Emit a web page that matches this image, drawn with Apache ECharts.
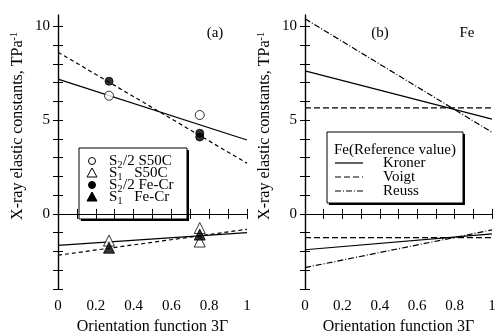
<!DOCTYPE html>
<html>
<head>
<meta charset="utf-8">
<script src="https://cdn.jsdelivr.net/npm/echarts@6/dist/echarts.min.js"></script>
<style>
  html, body { margin: 0; padding: 0; background: #fff; }
  #chart { width: 503px; height: 334px; }
</style>
</head>
<body>
<div id="chart"></div>
<script>
// ---- data ----
const xFit = [0, 1];

// panel (a): measured points [orientation function, value]
const s2S50C = [[0.27, 6.3], [0.75, 5.27]];
const s1S50C = [[0.27, -1.42], [0.75, -0.75], [0.75, -1.47]];
const s2FeCr = [[0.27, 7.07], [0.75, 4.3], [0.75, 4.1]];
const s1FeCr = [[0.27, -1.8], [0.75, -1.1]];
// panel (a): fitted lines, values at x = 0 and x = 1
const s2S50CFit = [7.18, 3.94];
const s1S50CFit = [-1.68, -1.0];
const s2FeCrFit = [8.62, 2.7];
const s1FeCrFit = [-2.2, -0.82];

// panel (b): reference values for Fe, at x = 0 and x = 1
const kronerS2 = [7.62, 5.05];
const kronerS1 = [-1.91, -1.06];
const voigtS2 = [5.65, 5.65];
const voigtS1 = [-1.26, -1.26];
const reussS2 = [10.4, 4.35];
const reussS1 = [-2.86, -0.85];

const yLabels = [0, 5, 10];
const yTicks = [-4, -3, -2, -1, 0, 1, 2, 3, 4, 5, 6, 7, 8, 9, 10];

const FONT = "Liberation Serif";
const chart = echarts.init(document.getElementById("chart"));

function fitData(ends) {
  return xFit.map((x, i) => [x, ends[i]]);
}

function xAxes(gridIndex) {
  const base = {
    gridIndex: gridIndex,
    type: "value",
    min: 0,
    max: 1,
    interval: 0.2,
    splitLine: { show: false },
    axisLine: { lineStyle: { color: "#000", width: 1.2 } },
    axisTick: { inside: true, length: 5, lineStyle: { color: "#000" } },
    minorTick: { show: true, splitNumber: 2, length: 5, lineStyle: { color: "#000" } },
  };
  return [
    Object.assign({}, base, {
      position: "bottom",
      name: "Orientation function 3Γ",
      nameLocation: "middle",
      nameGap: 28,
      nameTextStyle: { fontFamily: FONT, fontSize: 16, color: "#000" },
      axisLabel: { fontFamily: FONT, fontSize: 15, color: "#000", margin: 10 },
    }),
    Object.assign({}, base, { position: "top", axisLabel: { show: false } }),
  ];
}

function yAxes(gridIndex) {
  const base = {
    gridIndex: gridIndex,
    type: "value",
    min: -4,
    max: 10.6,
    splitLine: { show: false },
    axisLine: { lineStyle: { color: "#000", width: 1.2 } },
    axisTick: { inside: true, length: 5, customValues: yTicks, lineStyle: { color: "#000" } },
  };
  return [
    Object.assign({}, base, {
      position: "left",
      name: "{n|X-ray elastic constants, TPa}{sup|-1}",
      nameLocation: "middle",
      nameGap: 31,
      nameTextStyle: {
        fontFamily: FONT, fontSize: 16, color: "#000",
        padding: [0, 0, 0, 52],
        rich: {
          n: { fontFamily: FONT, fontSize: 16, color: "#000" },
          sup: { fontFamily: FONT, fontSize: 10, color: "#000", verticalAlign: "top", padding: [0, 0, 8, 0] },
        },
      },
      axisLabel: { fontFamily: FONT, fontSize: 15, color: "#000", margin: 8, customValues: yLabels },
    }),
    Object.assign({}, base, { position: "right", axisLabel: { show: false } }),
  ];
}

function lineSeries(xi, yi, ends, type) {
  return {
    type: "line",
    xAxisIndex: xi,
    yAxisIndex: yi,
    data: fitData(ends),
    symbol: "none",
    silent: true,
    lineStyle: { color: "#000", width: 1.2, type: type },
  };
}

function pointSeries(data, symbol, size, filled) {
  return {
    type: "scatter",
    xAxisIndex: 0,
    yAxisIndex: 0,
    data: data,
    symbol: symbol,
    symbolSize: size,
    itemStyle: { color: filled ? "#000" : "#fff", borderColor: "#000", borderWidth: 1 },
    z: 5,
  };
}

const shortDash = [4, 3];
const voigtDash = [6, 3];
const reussDash = [6, 2, 1, 2];

function label(x, y, text, size, align) {
  return {
    type: "text", x: x, y: y,
    style: { text: text, fontFamily: FONT, fontSize: size, fill: "#000", align: align || "left", verticalAlign: "middle" },
  };
}

// "S" + subscript + rest, placed piece by piece
function legendEntry(y, sub, rest) {
  return [
    label(109, y, "S", 15),
    label(117.5, y + 4, sub, 10),
    label(123, y, rest, 15),
  ];
}

function tri(cx, cy, filled) {
  return {
    type: "polygon",
    shape: { points: [[cx, cy - 5], [cx - 5, cy + 4], [cx + 5, cy + 4]] },
    style: { fill: filled ? "#000" : "#fff", stroke: "#000", lineWidth: 1 },
  };
}

const graphics = [
  // legend box (a)
  { type: "rect", shape: { x: 81, y: 150, width: 108, height: 71 }, style: { fill: "#000" } },
  { type: "rect", shape: { x: 79, y: 148, width: 108, height: 71 }, style: { fill: "#fff", stroke: "#000", lineWidth: 1 } },
  { type: "circle", shape: { cx: 92, cy: 161, r: 3.5 }, style: { fill: "#fff", stroke: "#000", lineWidth: 1 } },
  tri(92, 173, false),
  { type: "circle", shape: { cx: 92, cy: 185, r: 3.5 }, style: { fill: "#000", stroke: "#000", lineWidth: 1 } },
  tri(92, 197, true),
]
  .concat(legendEntry(161, "2", "/2 S50C"))
  .concat(legendEntry(173, "1", "   S50C"))
  .concat(legendEntry(185, "2", "/2 Fe-Cr"))
  .concat(legendEntry(197, "1", "   Fe-Cr"))
  .concat([
    // legend box (b)
    { type: "rect", shape: { x: 329, y: 134, width: 136, height: 71 }, style: { fill: "#000" } },
    { type: "rect", shape: { x: 327, y: 132, width: 136, height: 71 }, style: { fill: "#fff", stroke: "#000", lineWidth: 1 } },
    label(334, 150, "Fe(Reference value)", 15),
    { type: "line", shape: { x1: 335, y1: 163, x2: 363, y2: 163 }, style: { stroke: "#000", lineWidth: 1.2 } },
    { type: "line", shape: { x1: 335, y1: 177, x2: 363, y2: 177 }, style: { stroke: "#000", lineWidth: 1.2, lineDash: voigtDash } },
    { type: "line", shape: { x1: 335, y1: 191, x2: 363, y2: 191 }, style: { stroke: "#000", lineWidth: 1.2, lineDash: reussDash } },
    label(383, 163, "Kroner", 15),
    label(383, 177, "Voigt", 15),
    label(383, 191, "Reuss", 15),
    // panel tags
    label(215, 33, "(a)", 15, "center"),
    label(380, 33, "(b)", 15, "center"),
    label(467, 33, "Fe", 15, "center"),
  ]);

const option = {
  backgroundColor: "#fff",
  animation: false,
  grid: [
    { left: 58, top: 15, width: 189, height: 274, outerBoundsMode: "none" },
    { left: 305, top: 15, width: 187, height: 274, outerBoundsMode: "none" },
  ],
  xAxis: xAxes(0).concat(xAxes(1)),
  yAxis: yAxes(0).concat(yAxes(1)),
  series: [
    lineSeries(0, 0, s2S50CFit, "solid"),
    lineSeries(0, 0, s1S50CFit, "solid"),
    lineSeries(0, 0, s2FeCrFit, shortDash),
    lineSeries(0, 0, s1FeCrFit, shortDash),
    pointSeries(s2S50C, "circle", 9, false),
    pointSeries(s2FeCr, "circle", 8, true),
    pointSeries(s1S50C, "triangle", 11, false),
    pointSeries(s1FeCr, "triangle", 11, true),
    lineSeries(2, 2, kronerS2, "solid"),
    lineSeries(2, 2, kronerS1, "solid"),
    lineSeries(2, 2, voigtS2, voigtDash),
    lineSeries(2, 2, voigtS1, voigtDash),
    lineSeries(2, 2, reussS2, reussDash),
    lineSeries(2, 2, reussS1, reussDash),
  ],
  graphic: graphics,
};

chart.setOption(option);
</script>
</body>
</html>
